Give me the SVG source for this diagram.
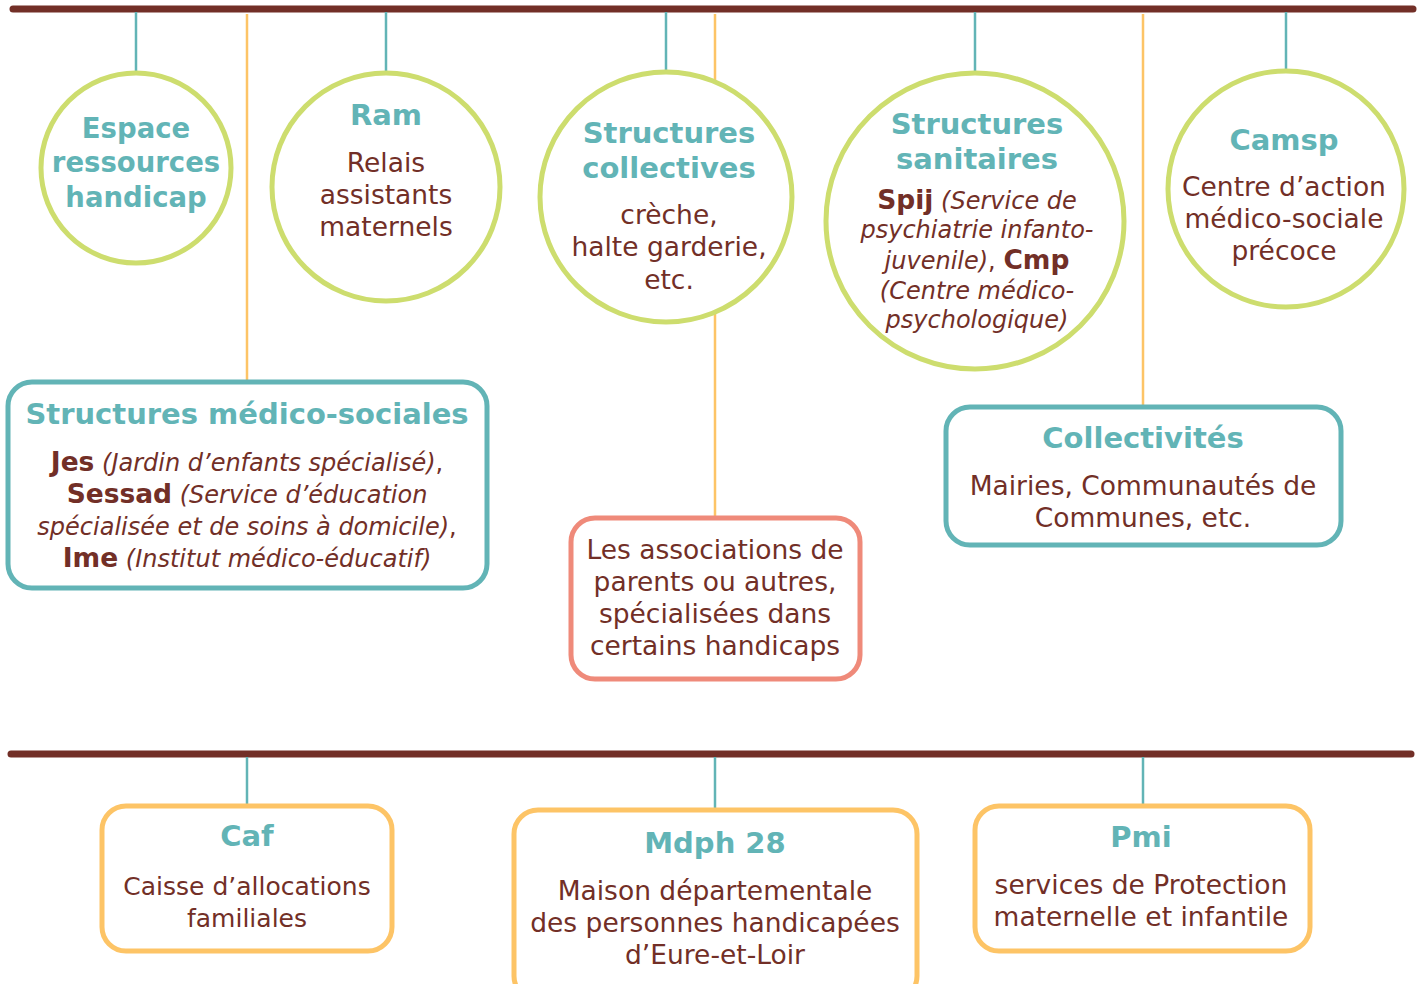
<svg xmlns="http://www.w3.org/2000/svg" width="1424" height="984" viewBox="0 0 1424 984">
<style>
.bar{stroke:#722f27;stroke-width:7;stroke-linecap:round;fill:none}
.tl{stroke:#62b4b6;stroke-width:2.5;fill:none}
.ol{stroke:#fdc466;stroke-width:2.5;fill:none}
.circ{fill:#fff;stroke:#cddd6e;stroke-width:5}
.bt{fill:#fff;stroke:#62b4b6;stroke-width:5}
.bo{fill:#fff;stroke:#fdc466;stroke-width:5}
.bs{fill:#fff;stroke:#ef8a7a;stroke-width:5}
text{font-family:"DejaVu Sans","Noto Sans",sans-serif;text-anchor:middle}
.h{fill:#62b4b6;font-weight:bold;font-size:29px}
.hs{font-size:27.5px}
.b{fill:#722f27;font-size:26.5px}
.c{font-size:25px}
.i{fill:#722f27;font-size:24px;font-style:italic}
.k{font-weight:bold;font-style:normal;font-size:26.5px}
</style>
<g id="connectors">
<line class="bar" x1="13" y1="9" x2="1413" y2="9"/>
<line class="bar" x1="11" y1="754" x2="1411" y2="754"/>
<line class="tl" x1="136" y1="12" x2="136" y2="73"/>
<line class="tl" x1="386" y1="12" x2="386" y2="73"/>
<line class="tl" x1="666" y1="12" x2="666" y2="72"/>
<line class="tl" x1="975" y1="12" x2="975" y2="73"/>
<line class="tl" x1="1286" y1="12" x2="1286" y2="71"/>
<line class="ol" x1="247" y1="14" x2="247" y2="382"/>
<line class="ol" x1="715" y1="14" x2="715" y2="518"/>
<line class="ol" x1="1143" y1="14" x2="1143" y2="407"/>
<line class="tl" x1="247" y1="757" x2="247" y2="806"/>
<line class="tl" x1="715" y1="757" x2="715" y2="810"/>
<line class="tl" x1="1143" y1="757" x2="1143" y2="806"/>
</g>
<g id="espace">
<circle class="circ" cx="136" cy="168" r="95"/>
<text class="h hs" x="136" y="138">Espace</text>
<text class="h hs" x="136" y="172">ressources</text>
<text class="h hs" x="136" y="207">handicap</text>
</g>
<g id="ram">
<circle class="circ" cx="386" cy="187" r="114"/>
<text class="h" x="386" y="125">Ram</text>
<text class="b" x="386" y="172">Relais</text>
<text class="b" x="386" y="204">assistants</text>
<text class="b" x="386" y="236">maternels</text>
</g>
<g id="collectives">
<ellipse class="circ" cx="666" cy="197" rx="126" ry="125"/>
<text class="h" x="669" y="143">Structures</text>
<text class="h" x="669" y="178">collectives</text>
<text class="b" x="669" y="224">crèche,</text>
<text class="b" x="669" y="256">halte garderie,</text>
<text class="b" x="669" y="289">etc.</text>
</g>
<g id="sanitaires">
<ellipse class="circ" cx="975" cy="221" rx="149" ry="148"/>
<text class="h" x="977" y="134">Structures</text>
<text class="h" x="977" y="169">sanitaires</text>
<text class="i" x="977" y="209"><tspan class="k">Spij</tspan> (Service de</text>
<text class="i" x="977" y="238">psychiatrie infanto-</text>
<text class="i" x="977" y="269">juvenile)<tspan font-style="normal">, </tspan><tspan class="k">Cmp</tspan></text>
<text class="i" x="977" y="299">(Centre médico-</text>
<text class="i" x="977" y="328">psychologique)</text>
</g>
<g id="camsp">
<circle class="circ" cx="1286" cy="189" r="118"/>
<text class="h" x="1284" y="150">Camsp</text>
<text class="b" x="1284" y="196">Centre d’action</text>
<text class="b" x="1284" y="228">médico-sociale</text>
<text class="b" x="1284" y="260">précoce</text>
</g>
<g id="medico-sociales">
<rect class="bt" x="8" y="382" width="479" height="206" rx="24"/>
<text class="h" x="247" y="424">Structures médico-sociales</text>
<text class="i" x="247" y="471"><tspan class="k">Jes</tspan> (Jardin d’enfants spécialisé)<tspan font-style="normal">,</tspan></text>
<text class="i" x="247" y="503"><tspan class="k">Sessad</tspan> (Service d’éducation</text>
<text class="i" x="247" y="535">spécialisée et de soins à domicile)<tspan font-style="normal">,</tspan></text>
<text class="i" x="247" y="567"><tspan class="k">Ime</tspan> (Institut médico-éducatif)</text>
</g>
<g id="associations">
<rect class="bs" x="571" y="518" width="289" height="161" rx="24"/>
<text class="b" x="715" y="559">Les associations de</text>
<text class="b" x="715" y="591">parents ou autres,</text>
<text class="b" x="715" y="623">spécialisées dans</text>
<text class="b" x="715" y="655">certains handicaps</text>
</g>
<g id="collectivites">
<rect class="bt" x="946" y="407" width="395" height="138" rx="24"/>
<text class="h" x="1143" y="448">Collectivités</text>
<text class="b" x="1143" y="495">Mairies, Communautés de</text>
<text class="b" x="1143" y="527">Communes, etc.</text>
</g>
<g id="caf">
<rect class="bo" x="102" y="806" width="290" height="145" rx="24"/>
<text class="h" x="247" y="846">Caf</text>
<text class="b c" x="247" y="895">Caisse d’allocations</text>
<text class="b c" x="247" y="927">familiales</text>
</g>
<g id="mdph">
<rect class="bo" x="514" y="810" width="403" height="190" rx="24"/>
<text class="h" x="715" y="853">Mdph 28</text>
<text class="b" x="715" y="900">Maison départementale</text>
<text class="b" x="715" y="932">des personnes handicapées</text>
<text class="b" x="715" y="964">d’Eure-et-Loir</text>
</g>
<g id="pmi">
<rect class="bo" x="975" y="806" width="335" height="145" rx="24"/>
<text class="h" x="1141" y="847">Pmi</text>
<text class="b" x="1141" y="894">services de Protection</text>
<text class="b" x="1141" y="926">maternelle et infantile</text>
</g>
</svg>
